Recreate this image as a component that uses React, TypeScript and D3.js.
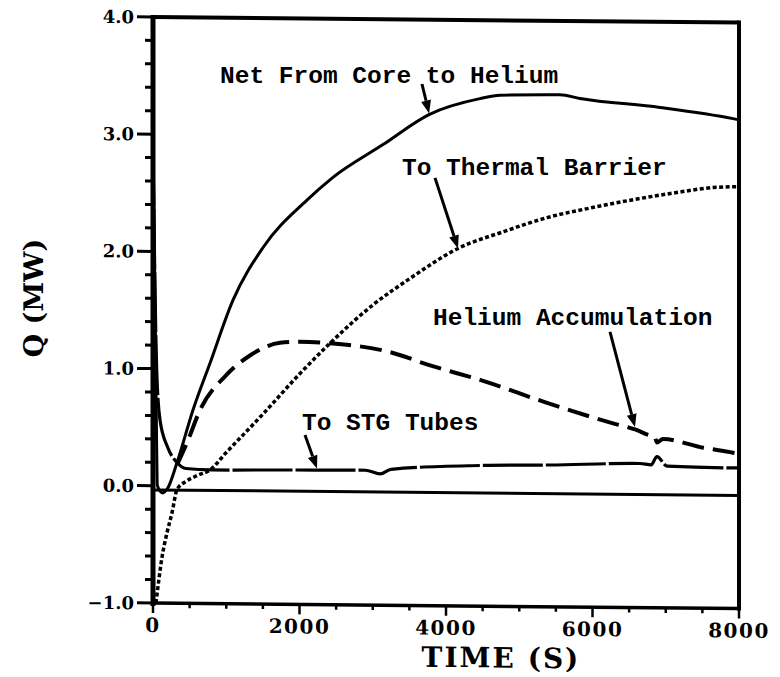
import React from 'react';
import * as d3 from 'd3';

// Time axis (s) and heat-rate axis (MW)
const timeTicks = [0, 2000, 4000, 6000, 8000];
const qTicks = [-1, 0, 1, 2, 3, 4];

// [time (s), Q (MW)]
const netCoreToHelium: [number, number][] = [
  [0, 2.9], [35, 1.2], [60, 0.0], [130, -0.06], [200, -0.02], [328, 0.2], [546, 0.65],
  [778, 1.05], [1092, 1.59], [1500, 2.04], [2102, 2.45], [2444, 2.64], [3140, 2.93],
  [3768, 3.19], [4464, 3.33], [4737, 3.36], [5556, 3.37], [5829, 3.34], [6922, 3.27],
  [7918, 3.18], [8000, 3.17],
];

const toThermalBarrier: [number, number][] = [
  [40, -1.0], [60, -0.9], [120, -0.62], [191, -0.4], [259, -0.23], [328, -0.03],
  [450, 0.04], [600, 0.09], [778, 0.14], [1000, 0.29], [1500, 0.62], [2007, 0.97],
  [2416, 1.23], [3000, 1.56], [3509, 1.79], [4164, 2.05], [4800, 2.2], [5379, 2.32],
  [6000, 2.41], [6553, 2.48], [7100, 2.54], [7645, 2.59], [8000, 2.6],
];

const heliumAccumulation: [number, number][] = [
  [328, 0.18], [464, 0.37], [642, 0.65], [1000, 0.95], [1324, 1.12], [1734, 1.23],
  [2000, 1.24], [2416, 1.23], [3236, 1.16], [3782, 1.05], [4464, 0.93], [5379, 0.74],
  [6280, 0.57], [6580, 0.52], [6785, 0.47], [6850, 0.46], [6880, 0.41], [6962, 0.44],
  [7509, 0.37], [7918, 0.33], [8000, 0.32],
];

const toStgTubes: [number, number][] = [
  [0, 2.9], [50, 1.0], [96, 0.56], [200, 0.33], [328, 0.2], [450, 0.15], [800, 0.14],
  [1734, 0.145], [2900, 0.15], [3100, 0.12], [3250, 0.16], [4464, 0.2], [5420, 0.21],
  [6648, 0.23], [6800, 0.22], [6880, 0.29], [7017, 0.21], [7918, 0.2], [8000, 0.2],
];

const referenceLevel: [number, number][] = [[0, -0.035], [8000, -0.035]];

// Arrow annotations: [tail time, tail Q, tip time, tip Q]
const arrowNet = [3672, 3.45, 3770, 3.2];
const arrowBarrier = [3850, 2.65, 4164, 2.05];
const arrowAccum = [6239, 1.35, 6580, 0.54];
const arrowStg = [2075, 0.445, 2239, 0.16];

const x = d3.scaleLinear().domain([0, 8000]).range([153, 739]);
const y = d3.scaleLinear().domain([-1, 4]).range([605.8, 19.8]);

const line = d3
  .line<[number, number]>()
  .x((d) => x(d[0]))
  .y((d) => y(d[1]))
  .curve(d3.curveMonotoneX);

const serif = "'DejaVu Serif', serif";
const mono = "'Liberation Mono', monospace";

function Arrow({ a }: { a: number[] }) {
  const x0 = x(a[0]);
  const y0 = y(a[1]);
  const x1 = x(a[2]);
  const y1 = y(a[3]);
  const ang = Math.atan2(y1 - y0, x1 - x0);
  const headLen = 13;
  const headW = 5;
  const bx = x1 - headLen * Math.cos(ang);
  const by = y1 - headLen * Math.sin(ang);
  const px = -Math.sin(ang) * headW;
  const py = Math.cos(ang) * headW;
  return (
    <g>
      <line x1={x0} y1={y0} x2={bx} y2={by} stroke="#000" strokeWidth={3} />
      <polygon
        points={`${x1},${y1} ${bx + px},${by + py} ${bx - px},${by - py}`}
        fill="#000"
      />
    </g>
  );
}

export default function App() {
  const [x0, x1] = x.range();
  const [yb, yt] = y.range();
  const xMinor = d3.range(0, 8001, 500);
  const yMinor = d3.range(-1, 4.001, 0.2);
  return (
    <svg
      width={780}
      height={677}
      style={{ position: 'absolute', left: 0, top: 0, background: '#fff' }}
    >
      <g transform="translate(447,312) skewY(0.55) translate(-447,-312)">
        {/* frame */}
        <line x1={x0} y1={yt} x2={x1} y2={yt} stroke="#000" strokeWidth={4} />
        <line x1={x1} y1={yt - 2} x2={x1} y2={yb + 2} stroke="#000" strokeWidth={4} />
        <line x1={x0} y1={yb} x2={x1} y2={yb} stroke="#000" strokeWidth={3.5} />
        <line x1={x0} y1={yt - 2} x2={x0} y2={yb + 3} stroke="#000" strokeWidth={5} />

        {/* left ticks */}
        {yMinor.map((v, i) => {
          const major = Math.abs(v - Math.round(v)) < 1e-6;
          return (
            <line
              key={'yt' + i}
              x1={x0 - (major ? 16 : 8)}
              x2={x0}
              y1={y(v)}
              y2={y(v)}
              stroke="#000"
              strokeWidth={3}
            />
          );
        })}
        {qTicks.map((v) => (
          <text
            key={'yl' + v}
            x={x0 - 19}
            y={y(v)}
            dy="0.36em"
            textAnchor="end"
            fontFamily={serif}
            fontWeight="bold"
            fontSize={18}
          >
            {v.toFixed(1).replace('-', '\u2212')}
          </text>
        ))}

        {/* bottom ticks */}
        {xMinor.map((t) => {
          const major = t % 2000 === 0;
          return (
            <line
              key={'xt' + t}
              x1={x(t)}
              x2={x(t)}
              y1={yb}
              y2={yb + (major ? 10 : 5)}
              stroke="#000"
              strokeWidth={2.5}
            />
          );
        })}
        {timeTicks.map((t) => (
          <text
            key={'xl' + t}
            x={x(t)}
            y={yb + 29}
            textAnchor="middle"
            fontFamily={serif}
            fontWeight="bold"
            fontSize={20}
            letterSpacing={1.5}
          >
            {t}
          </text>
        ))}

        {/* axis titles */}
        <text
          x={501}
          y={667}
          textAnchor="middle"
          fontFamily={serif}
          fontWeight="bold"
          fontSize={28}
          letterSpacing={2}
        >
          TIME (S)
        </text>
        <text
          transform="translate(43,302) rotate(-90)"
          textAnchor="middle"
          fontFamily={serif}
          fontWeight="bold"
          fontSize={27}
        >
          Q (MW)
        </text>

        {/* curves */}
        <path d={line(referenceLevel) ?? ''} fill="none" stroke="#000" strokeWidth={3} />
        <path d={line(netCoreToHelium) ?? ''} fill="none" stroke="#000" strokeWidth={3} />
        <path
          d={line(toStgTubes) ?? ''}
          fill="none"
          stroke="#000"
          strokeWidth={3.2}
          strokeDasharray="60 3"
        />
        <path
          d={line(toThermalBarrier) ?? ''}
          fill="none"
          stroke="#000"
          strokeWidth={3.5}
          strokeDasharray="4 2.5"
        />
        <path
          d={line(heliumAccumulation) ?? ''}
          fill="none"
          stroke="#000"
          strokeWidth={4}
          strokeDasharray="22 9"
        />

        <Arrow a={arrowNet} />
        <Arrow a={arrowBarrier} />
        <Arrow a={arrowAccum} />
        <Arrow a={arrowStg} />
      </g>

      {/* curve labels */}
      <g fontFamily={mono} fontWeight="bold" fontSize={24.5}>
        <text x={220} y={83}>Net From Core to Helium</text>
        <text x={402} y={175}>To Thermal Barrier</text>
        <text x={433} y={325}>Helium Accumulation</text>
        <text x={302} y={430}>To STG Tubes</text>
      </g>
    </svg>
  );
}
